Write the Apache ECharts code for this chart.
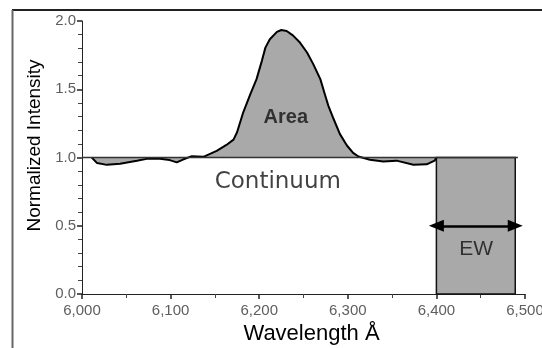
<!DOCTYPE html>
<html>
<head>
<meta charset="utf-8">
<script src="https://cdn.jsdelivr.net/npm/echarts@6/dist/echarts.min.js"></script>
<style>
  html, body { margin: 0; padding: 0; background: #fff; }
  #chart { width: 542px; height: 348px; }
</style>
</head>
<body>
<div id="chart"></div>
<script>
// Emission line profile sampled across wavelength (Å)
const wavelength = [6011, 6017, 6028, 6043, 6062, 6073, 6088, 6099, 6107, 6114, 6124, 6137,
  6152, 6163, 6171, 6175, 6182, 6190, 6197, 6203, 6207, 6212, 6220, 6225, 6231, 6238, 6246,
  6254, 6261, 6269, 6274, 6278, 6284, 6291, 6299, 6306, 6312, 6314, 6325, 6340, 6355, 6374,
  6389, 6398, 6400];
const intensity = [1.0, 0.959, 0.946, 0.954, 0.976, 0.99, 0.99, 0.981, 0.964, 0.985, 1.01, 1.005,
  1.049, 1.092, 1.131, 1.185, 1.331, 1.465, 1.574, 1.708, 1.805, 1.866, 1.92, 1.934, 1.927, 1.895, 1.842,
  1.769, 1.684, 1.574, 1.465, 1.38, 1.282, 1.173, 1.088, 1.034, 1.007, 1.0, 0.983, 0.97, 0.977, 0.947,
  0.95, 0.977, 1.0];

// Continuum level and equivalent-width box
const continuumLevel = 1.0;
const continuumRange = [6000, 6492];
const ewStart = 6400;
const ewEnd = 6489;

// Axis tick settings
const xTicks = { min: 6000, max: 6500, step: 100 };
const yTicks = { min: 0, max: 2, step: 0.5 };

const profile = wavelength.map((w, i) => [w, intensity[i]]);
const continuum = continuumRange.map(w => [w, continuumLevel]);

const chart = echarts.init(document.getElementById('chart'), null, { renderer: 'canvas' });

const sans = 'Liberation Sans, Arial, sans-serif';
const tickLabel = { color: '#5e5e5e', fontFamily: sans, fontSize: 15 };

chart.setOption({
  animation: false,
  backgroundColor: '#fff',
  grid: { left: 82, right: 17, top: 21, bottom: 54, outerBoundsMode: 'none' },
  xAxis: {
    type: 'value',
    min: xTicks.min, max: xTicks.max, interval: xTicks.step,
    name: 'Wavelength Å',
    nameLocation: 'middle',
    nameGap: 28,
    nameTextStyle: { color: '#000', fontFamily: sans, fontSize: 22, padding: [0, 0, 0, 16] },
    axisLine: { show: true, onZero: false, lineStyle: { color: '#222', width: 1 } },
    axisTick: { show: true, length: 5, lineStyle: { color: '#222', width: 1.5 } },
    minorTick: { show: true, splitNumber: 2, length: 4, lineStyle: { color: '#444', width: 1 } },
    splitLine: { show: false },
    axisLabel: Object.assign({ margin: 9, formatter: v => v.toLocaleString('en-US') }, tickLabel)
  },
  yAxis: {
    type: 'value',
    min: yTicks.min, max: yTicks.max, interval: yTicks.step,
    name: 'Normalized Intensity',
    nameLocation: 'middle',
    nameGap: 35,
    nameTextStyle: { color: '#000', fontFamily: sans, fontSize: 19, padding: [0, 0, 0, 24] },
    axisLine: { show: true, lineStyle: { color: '#222', width: 1 } },
    axisTick: { show: true, length: 5, lineStyle: { color: '#222', width: 1.5 } },
    minorTick: { show: true, splitNumber: 5, length: 4, lineStyle: { color: '#444', width: 1 } },
    splitLine: { show: false },
    axisLabel: Object.assign({ margin: 6, formatter: v => v.toFixed(1) }, tickLabel)
  },
  series: [
    {
      // equivalent-width rectangle with its width arrow
      type: 'line',
      data: [],
      markArea: {
        silent: true,
        itemStyle: { color: '#a9a9a9', borderColor: '#111', borderWidth: 1.5 },
        data: [[{ coord: [ewStart, 0] }, { coord: [ewEnd, continuumLevel] }]]
      },
      markLine: {
        silent: true,
        symbol: ['triangle', 'triangle'],
        symbolSize: [12, 15],
        label: { show: false },
        lineStyle: { color: '#000', width: 2.5, type: 'solid' },
        data: [[{ coord: [ewStart, 0.5] }, { coord: [ewEnd, 0.5] }]]
      }
    },
    {
      // line profile filled against the continuum
      type: 'line',
      data: profile,
      showSymbol: false,
      smooth: false,
      lineStyle: { color: '#000', width: 2 },
      areaStyle: { color: '#a9a9a9', opacity: 1, origin: continuumLevel },
      z: 3
    },
    {
      // continuum level
      type: 'line',
      data: continuum,
      showSymbol: false,
      lineStyle: { color: '#333', width: 1.5 },
      z: 4
    },
    {
      // annotations
      type: 'scatter',
      symbolSize: 0,
      z: 5,
      data: [
        { value: [6230, 1.29], label: { formatter: 'Area', fontSize: 20, fontWeight: 'bold', fontFamily: sans } },
        { value: [6221, 0.82], label: { formatter: 'Continuum', fontSize: 23, fontFamily: 'DejaVu Sans, sans-serif' } },
        { value: [6445, 0.33], label: { formatter: 'EW', fontSize: 21, fontFamily: sans } }
      ],
      label: { show: true, position: 'inside', color: '#111' }
    }
  ],
  graphic: [
    { type: 'line', shape: { x1: 12, y1: 10, x2: 542, y2: 10 }, style: { stroke: '#222', lineWidth: 2 } },
    { type: 'line', shape: { x1: 12.5, y1: 10, x2: 12.5, y2: 348 }, style: { stroke: '#666', lineWidth: 2 } }
  ]
});
</script>
</body>
</html>
